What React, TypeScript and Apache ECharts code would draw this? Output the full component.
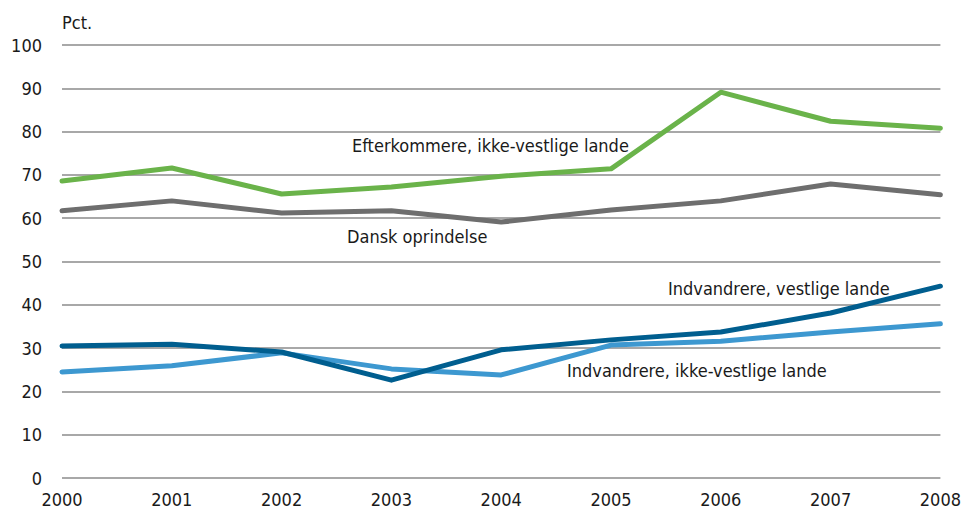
import React, { useEffect, useRef } from "react";
import * as echarts from "echarts";

const years = ["2000", "2001", "2002", "2003", "2004", "2005", "2006", "2007", "2008"];
const efterkommere = [68.6, 71.6, 65.6, 67.2, 69.7, 71.4, 89.1, 82.4, 80.8];
const dansk = [61.7, 64.0, 61.2, 61.7, 59.1, 61.9, 64.0, 67.9, 65.4];
const indvVestlige = [30.5, 30.9, 29.1, 22.6, 29.6, 31.9, 33.7, 38.1, 44.3];
const indvIkkeVestlige = [24.5, 25.9, 28.9, 25.2, 23.8, 30.7, 31.6, 33.7, 35.6];

const FONT = "'Liberation Sans Narrow', 'DejaVu Sans Condensed', 'Open Sans', sans-serif";

export default function App() {
  const ref = useRef<HTMLDivElement>(null);
  useEffect(() => {
    document.body.style.margin = "0";
    const chart = echarts.init(ref.current!, null, { renderer: "svg" });
    const line = (name: string, data: number[], color: string) => ({
      name,
      type: "line",
      data,
      symbol: "none",
      lineStyle: { color, width: 5, cap: "round", join: "round" },
      itemStyle: { color },
      z: 3,
    });
    const txt = (x: number, y: number, text: string) => ({
      type: "text",
      x,
      y,
      style: { text, fill: "#1a1a1a", font: `18px ${FONT}`, textVerticalAlign: "middle" },
      z: 10,
    });
    chart.setOption({
      animation: false,
      backgroundColor: "#ffffff",
      grid: { left: 62, right: 21, top: 45, bottom: 33, containLabel: false },
      xAxis: {
        type: "category",
        data: years,
        boundaryGap: false,
        axisLine: { show: false },
        axisTick: { show: false },
        axisLabel: { color: "#1a1a1a", fontFamily: FONT, fontSize: 18, margin: 12 },
        splitLine: { show: false },
      },
      yAxis: {
        type: "value",
        min: 0,
        max: 100,
        interval: 10,
        axisLine: { show: false },
        axisTick: { show: false },
        axisLabel: { color: "#1a1a1a", fontFamily: FONT, fontSize: 18, margin: 20 },
        splitLine: { lineStyle: { color: "#a8a8a8", width: 2 } },
      },
      series: [
        line("Dansk oprindelse", dansk, "#6e6e6e"),
        line("Efterkommere, ikke-vestlige lande", efterkommere, "#6ab34a"),
        line("Indvandrere, ikke-vestlige lande", indvIkkeVestlige, "#3d98d0"),
        line("Indvandrere, vestlige lande", indvVestlige, "#005e8f"),
      ],
      graphic: [
        txt(62, 22, "Pct."),
        txt(352, 145, "Efterkommere, ikke-vestlige lande"),
        txt(347, 236, "Dansk oprindelse"),
        txt(668, 288, "Indvandrere, vestlige lande"),
        txt(567, 370, "Indvandrere, ikke-vestlige lande"),
      ],
    });
    return () => chart.dispose();
  }, []);
  return <div ref={ref} style={{ width: 964, height: 511 }} />;
}
